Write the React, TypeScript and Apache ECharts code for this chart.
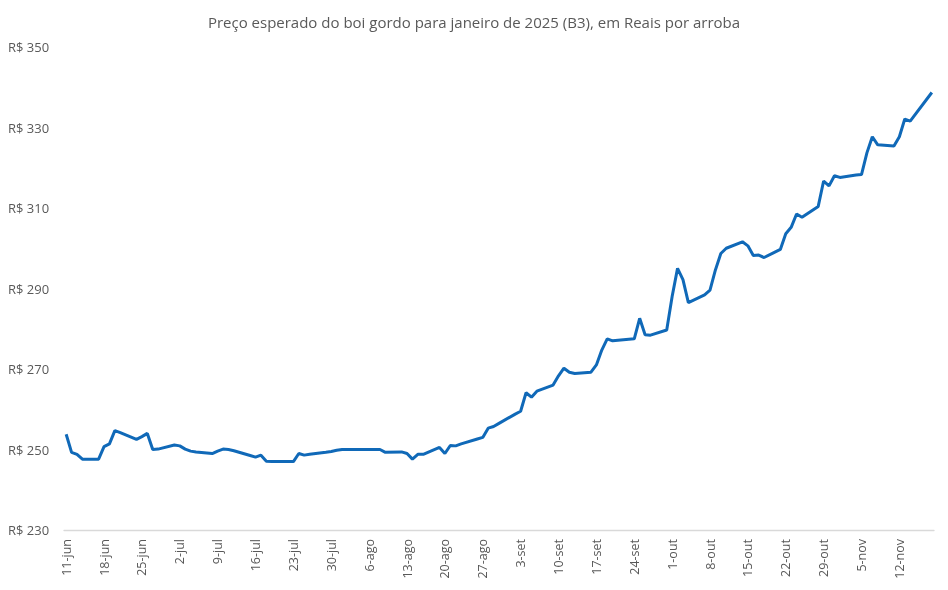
import React, { useEffect, useRef } from "react";
import * as echarts from "echarts";

const title = "Preço esperado do boi gordo para janeiro de 2025 (B3), em Reais por arroba";

const dates = [
  "2024-06-11", "2024-06-12", "2024-06-13", "2024-06-14", "2024-06-17", "2024-06-18", "2024-06-19", "2024-06-20", "2024-06-21",
  "2024-06-24", "2024-06-25", "2024-06-26", "2024-06-27", "2024-06-28",
  "2024-07-01", "2024-07-02", "2024-07-03", "2024-07-04", "2024-07-05", "2024-07-08", "2024-07-09", "2024-07-10", "2024-07-11",
  "2024-07-12", "2024-07-15", "2024-07-16", "2024-07-17", "2024-07-18", "2024-07-19", "2024-07-22", "2024-07-23", "2024-07-24",
  "2024-07-25", "2024-07-26", "2024-07-29", "2024-07-30", "2024-07-31",
  "2024-08-01", "2024-08-02", "2024-08-05", "2024-08-06", "2024-08-07", "2024-08-08", "2024-08-09", "2024-08-12", "2024-08-13",
  "2024-08-14", "2024-08-15", "2024-08-16", "2024-08-19", "2024-08-20", "2024-08-21", "2024-08-22", "2024-08-23", "2024-08-26",
  "2024-08-27", "2024-08-28", "2024-08-29", "2024-08-30",
  "2024-09-02", "2024-09-03", "2024-09-04", "2024-09-05", "2024-09-06", "2024-09-09", "2024-09-10", "2024-09-11", "2024-09-12",
  "2024-09-13", "2024-09-16", "2024-09-17", "2024-09-18", "2024-09-19", "2024-09-20", "2024-09-23", "2024-09-24", "2024-09-25",
  "2024-09-26", "2024-09-27", "2024-09-30",
  "2024-10-01", "2024-10-02", "2024-10-03", "2024-10-04", "2024-10-07", "2024-10-08", "2024-10-09", "2024-10-10", "2024-10-11",
  "2024-10-14", "2024-10-15", "2024-10-16", "2024-10-17", "2024-10-18", "2024-10-21", "2024-10-22", "2024-10-23", "2024-10-24",
  "2024-10-25", "2024-10-28", "2024-10-29", "2024-10-30", "2024-10-31",
  "2024-11-01", "2024-11-04", "2024-11-05", "2024-11-06", "2024-11-07", "2024-11-08", "2024-11-11", "2024-11-12", "2024-11-13",
  "2024-11-14", "2024-11-18",
];

const prices = [
  253.8, 249.3, 248.8, 247.6, 247.6, 250.7, 251.4, 254.7, 254.2,
  252.5, 253.2, 254.0, 250.0, 250.1,
  251.1, 250.9, 250.1, 249.6, 249.4, 249.0, 249.6, 250.1, 250.0,
  249.7, 248.5, 248.1, 248.6, 247.1, 247.0, 247.0, 247.0, 249.0,
  248.6, 248.8, 249.3, 249.5, 249.8,
  250.0, 250.0, 250.0, 250.0, 250.0, 250.0, 249.3, 249.4, 249.0,
  247.6, 248.8, 248.8, 250.5, 249.0, 251.0, 250.9, 251.4, 252.6,
  253.0, 255.3, 255.7, 256.5,
  258.8, 259.5, 264.1, 263.0, 264.5, 266.0, 268.3, 270.2, 269.2,
  268.9, 269.2, 271.0, 274.7, 277.5, 277.0, 277.4, 277.5, 282.6,
  278.5, 278.4, 279.7,
  288.0, 295.0, 292.2, 286.5, 288.4, 289.6, 294.6, 298.7, 300.0,
  301.6, 300.6, 298.2, 298.3, 297.7, 299.7, 303.6, 305.2, 308.5,
  307.7, 310.4, 316.7, 315.5, 318.0,
  317.6, 318.2, 318.3, 323.7, 327.7, 325.7, 325.4, 327.7, 332.1,
  331.6, 338.7,
];

const tickLabels = [
  "11-jun", "18-jun", "25-jun", "2-jul", "9-jul", "16-jul", "23-jul", "30-jul", "6-ago", "13-ago", "20-ago", "27-ago",
  "3-set", "10-set", "17-set", "24-set", "1-out", "8-out", "15-out", "22-out", "29-out", "5-nov", "12-nov",
];

const yTicks = [230, 250, 270, 290, 310, 330, 350];

const monthIndex: Record<string, number> = { jun: 5, jul: 6, ago: 7, set: 8, out: 9, nov: 10 };
const BASE = Date.UTC(2024, 5, 11);
const DAY = 86400000;

function dayFromIso(s: string): number {
  const [y, m, d] = s.split("-").map(Number);
  return Math.round((Date.UTC(y, m - 1, d) - BASE) / DAY);
}
function dayFromLabel(s: string): number {
  const [d, m] = s.split("-");
  return Math.round((Date.UTC(2024, monthIndex[m], Number(d)) - BASE) / DAY);
}

export default function App() {
  const ref = useRef<HTMLDivElement>(null);
  useEffect(() => {
    if (!ref.current) return;
    const chart = echarts.init(ref.current, undefined, { renderer: "svg" });
    const tickDays = tickLabels.map(dayFromLabel);
    const labelMap: Record<number, string> = {};
    tickLabels.forEach((l, i) => (labelMap[tickDays[i]] = l));
    const font = "'Open Sans', 'Noto Sans', sans-serif";
    chart.setOption({
      animation: false,
      title: {
        text: title,
        left: "center",
        top: 9,
        textStyle: { fontSize: 15, fontWeight: "normal", color: "#595959", fontFamily: font },
      },
      grid: { left: 64, right: 14, top: 47, bottom: 60, containLabel: false },
      xAxis: {
        type: "value",
        min: -0.4,
        max: 160.4,
        splitLine: { show: false },
        axisTick: { show: false },
        axisLine: { show: true, lineStyle: { color: "#d9d9d9", width: 1.3 } },
        axisLabel: {
          customValues: tickDays,
          rotate: 90,
          margin: 9,
          color: "#595959",
          fontSize: 12.5,
          fontFamily: font,
          formatter: (v: number) => labelMap[Math.round(v)] ?? "",
        },
      },
      yAxis: {
        type: "value",
        min: yTicks[0],
        max: yTicks[yTicks.length - 1],
        interval: 20,
        splitLine: { show: false },
        axisLine: { show: false },
        axisTick: { show: false },
        axisLabel: {
          align: "left",
          margin: 56,
          color: "#595959",
          fontSize: 13,
          fontFamily: font,
          formatter: (v: number) => "R$ " + v,
        },
      },
      series: [
        {
          type: "line",
          data: dates.map((d, i) => [dayFromIso(d), prices[i]]),
          showSymbol: false,
          lineStyle: { color: "#1069b8", width: 3 },
          itemStyle: { color: "#1069b8" },
        },
      ],
    });
    return () => chart.dispose();
  }, []);
  return <div ref={ref} style={{ position: "fixed", left: 0, top: 0, width: 948, height: 590 }} />;
}
